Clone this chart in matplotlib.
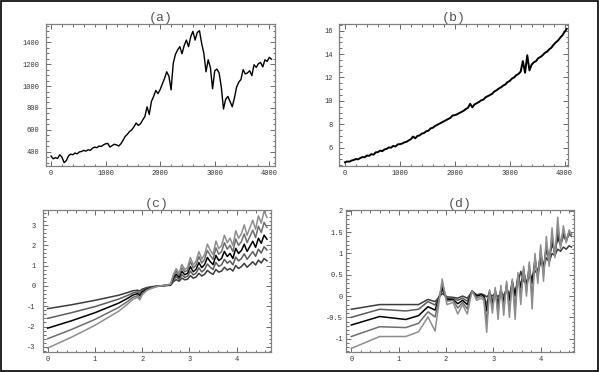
import matplotlib
matplotlib.use('Agg')
import matplotlib.pyplot as plt
from matplotlib.ticker import MultipleLocator, FuncFormatter
from matplotlib.patches import Rectangle
import numpy as np

# ---- panel (a): index series ----
a_t = np.arange(0, 4041, 40)
a_v = [360, 335, 345, 338, 372, 350, 300, 318, 362, 378,
       372, 388, 380, 398, 402, 412, 405, 418, 412, 432,
       442, 436, 452, 448, 462, 472, 475, 442, 456, 468,
       462, 452, 472, 505, 540, 560, 585, 600, 628, 662,
       640, 655, 690, 722, 810, 740, 860, 905, 960, 930,
       968, 1020, 1070, 1130, 1090, 965, 1210, 1290, 1330, 1360,
       1295, 1370, 1420, 1360, 1450, 1500, 1420, 1490, 1505, 1390,
       1300, 1130, 1240, 1170, 975, 1140, 1155, 1120, 990, 790,
       880, 905, 860, 810, 890, 990, 1035, 1060, 1150, 1110,
       1120, 1140, 1095, 1195, 1170, 1205, 1215, 1175, 1240, 1225,
       1262, 1245]

# ---- panel (b): growth series ----
b_t = np.arange(0, 4041, 40)
b_v = [4.75, 4.82, 4.80, 4.90, 4.95, 5.03, 5.00, 5.12, 5.20, 5.18,
       5.33, 5.30, 5.45, 5.40, 5.60, 5.62, 5.75, 5.70, 5.85, 5.90,
       6.02, 6.00, 6.15, 6.10, 6.28, 6.30, 6.35, 6.45, 6.50, 6.62,
       6.72, 6.95, 6.80, 7.00, 7.05, 7.20, 7.25, 7.40, 7.45, 7.65,
       7.70, 7.85, 7.95, 8.05, 8.15, 8.25, 8.35, 8.45, 8.55, 8.75,
       8.78, 8.85, 8.95, 9.05, 9.15, 9.30, 9.40, 9.75, 9.45, 9.70,
       9.80, 9.90, 10.05, 10.10, 10.30, 10.40, 10.50, 10.60, 10.80, 10.90,
       11.05, 11.15, 11.30, 11.40, 11.60, 11.70, 11.90, 12.00, 12.20, 12.30,
       12.50, 13.40, 12.40, 13.90, 12.60, 13.10, 13.30, 13.40, 13.65, 13.75,
       13.90, 14.10, 14.20, 14.40, 14.55, 14.80, 15.00, 15.15, 15.40, 15.60,
       15.90, 16.15]

# ---- panel (c): five curves ----
c_x = [0.0, 0.5, 1.0, 1.5, 1.7, 1.8, 1.85, 1.9, 1.95, 2.0, 2.1, 2.2, 2.3, 2.4, 2.5,
       2.60, 2.66, 2.72, 2.78, 2.84, 2.90, 2.96, 3.02, 3.08, 3.14, 3.20, 3.26,
       3.32, 3.38, 3.44, 3.50, 3.56, 3.62, 3.68, 3.74, 3.80, 3.86, 3.92, 3.98,
       4.04, 4.10, 4.16, 4.22, 4.28, 4.34, 4.40, 4.46, 4.52, 4.58, 4.64]
c1 = [-1.12, -0.93, -0.71, -0.46, -0.32, -0.24, -0.23, -0.21, -0.25, -0.16, -0.08, -0.04, -0.01, 0.0, 0.02,
      0.03, 0.21, 0.31, 0.23, 0.39, 0.30, 0.33, 0.51, 0.38, 0.44, 0.62, 0.49, 0.57, 0.76, 0.65, 0.57,
      0.81, 0.68, 0.73, 0.92, 0.78, 0.86, 0.73, 1.00, 0.86, 0.95, 1.11, 0.92, 1.05, 1.19, 1.03, 1.27,
      1.13, 1.35, 1.24]
c2 = [-1.60, -1.32, -1.02, -0.65, -0.46, -0.35, -0.32, -0.29, -0.36, -0.23, -0.12, -0.06, -0.02, 0.0, 0.02,
      0.05, 0.29, 0.45, 0.32, 0.55, 0.42, 0.48, 0.73, 0.54, 0.63, 0.89, 0.69, 0.81, 1.08, 0.92, 0.81,
      1.16, 0.96, 1.04, 1.31, 1.12, 1.23, 1.04, 1.42, 1.23, 1.35, 1.58, 1.31, 1.50, 1.69, 1.46, 1.81,
      1.62, 1.93, 1.77]
c3 = [-2.08, -1.72, -1.32, -0.85, -0.60, -0.45, -0.42, -0.38, -0.47, -0.30, -0.15, -0.08, -0.02, 0.0, 0.03,
      0.06, 0.38, 0.58, 0.42, 0.72, 0.55, 0.62, 0.95, 0.70, 0.82, 1.15, 0.90, 1.05, 1.40, 1.20, 1.05,
      1.50, 1.25, 1.35, 1.70, 1.45, 1.60, 1.35, 1.85, 1.60, 1.75, 2.05, 1.70, 1.95, 2.20, 1.90, 2.35,
      2.10, 2.50, 2.30]
c4 = [-2.60, -2.15, -1.65, -1.06, -0.75, -0.56, -0.53, -0.48, -0.59, -0.38, -0.19, -0.10, -0.03, 0.0, 0.04,
      0.08, 0.48, 0.73, 0.53, 0.90, 0.69, 0.78, 1.19, 0.88, 1.03, 1.44, 1.13, 1.31, 1.75, 1.50, 1.31,
      1.88, 1.56, 1.69, 2.13, 1.81, 2.00, 1.69, 2.31, 2.00, 2.19, 2.56, 2.13, 2.44, 2.75, 2.38, 2.94,
      2.63, 3.13, 2.88]
c5 = [-3.06, -2.53, -1.94, -1.25, -0.88, -0.66, -0.62, -0.56, -0.69, -0.44, -0.22, -0.12, -0.03, 0.0, 0.04,
      0.09, 0.56, 0.85, 0.62, 1.06, 0.81, 0.91, 1.40, 1.03, 1.21, 1.69, 1.32, 1.54, 2.06, 1.76, 1.54,
      2.21, 1.84, 1.98, 2.50, 2.13, 2.35, 1.98, 2.72, 2.35, 2.57, 3.01, 2.50, 2.87, 3.23, 2.79, 3.45,
      3.09, 3.68, 3.38]

# ---- panel (d): five curves ----
d_x = [0.0, 0.6, 1.15, 1.42, 1.62, 1.77, 1.92, 2.02, 2.15, 2.25, 2.35, 2.45, 2.55, 2.65, 2.74,
       2.80, 2.86, 2.92, 2.98, 3.04, 3.10, 3.16, 3.22, 3.28, 3.34, 3.40, 3.46, 3.52, 3.58,
       3.64, 3.70, 3.76, 3.82, 3.88, 3.94, 4.00, 4.06, 4.12, 4.18, 4.24, 4.30, 4.36, 4.42,
       4.48, 4.54, 4.60, 4.65]
d1 = [-0.31, -0.20, -0.20, -0.20, -0.08, -0.13, 0.06, -0.02, -0.03, -0.05, 0.00, -0.05, 0.10, 0.03, 0.05,
      0.03, -0.02, 0.05, 0.00, 0.06, -0.02, 0.08, 0.02, 0.12, 0.05, 0.22, 0.10, 0.30, 0.58,
      0.35, 0.28, 0.45, 0.38, 0.60, 0.50, 0.82, 0.65, 0.90, 0.80, 1.00, 0.95, 1.10, 1.05,
      1.15, 1.10, 1.18, 1.15]
d2 = [-0.50, -0.31, -0.35, -0.31, -0.13, -0.21, 0.14, -0.05, -0.05, -0.10, -0.05, -0.12, 0.12, 0.02, 0.05,
      0.02, -0.20, 0.08, -0.10, 0.10, -0.15, 0.12, -0.05, 0.18, 0.00, 0.30, 0.05, 0.42, 0.30,
      0.50, 0.30, 0.55, 0.40, 0.75, 0.55, 0.95, 0.70, 1.05, 0.90, 1.20, 1.05, 1.35, 1.20,
      1.40, 1.30, 1.45, 1.40]
d3 = [-0.68, -0.48, -0.55, -0.46, -0.25, -0.33, 0.20, -0.08, -0.08, -0.18, -0.10, -0.20, 0.12, 0.00, 0.03,
      0.00, -0.35, 0.10, -0.20, 0.12, -0.25, 0.15, -0.15, 0.25, -0.10, 0.35, 0.00, 0.45, 0.20,
      0.60, 0.25, 0.65, 0.30, 0.85, 0.50, 1.00, 0.65, 1.15, 0.85, 1.30, 1.00, 1.45, 1.20,
      1.50, 1.30, 1.50, 1.45]
d4 = [-0.95, -0.72, -0.74, -0.64, -0.37, -0.49, 0.30, -0.12, -0.10, -0.28, -0.15, -0.30, 0.12, -0.05, 0.00,
      -0.05, -0.60, 0.12, -0.30, 0.15, -0.40, 0.20, -0.30, 0.30, -0.35, 0.35, -0.30, 0.50, 0.00,
      0.65, 0.10, 0.75, -0.05, 0.90, 0.40, 1.10, 0.50, 1.25, 0.80, 1.45, 0.95, 1.60, 1.20,
      1.55, 1.30, 1.50, 1.45]
d5 = [-1.23, -0.95, -0.95, -0.84, -0.49, -0.82, 0.40, -0.20, -0.15, -0.42, -0.20, -0.42, 0.12, -0.10, -0.05,
      -0.10, -0.85, 0.15, -0.40, 0.20, -0.55, 0.25, -0.45, 0.35, -0.50, 0.40, -0.55, 0.55, -0.20,
      0.70, 0.00, 0.80, -0.30, 1.00, 0.30, 1.20, 0.35, 1.40, 0.70, 1.60, 0.90, 1.85, 1.10,
      1.65, 1.25, 1.55, 1.45]

grays = ['#3c3c3c', '#5c5c5c', '#000000', '#6e6e6e', '#8e8e8e']
mono = 'Liberation Mono'


def style(ax, xlim, ylim, xmaj, xmin, ymaj, ymin, ypad):
    ax.set_xlim(*xlim)
    ax.set_ylim(*ylim)
    ax.xaxis.set_major_locator(MultipleLocator(xmaj))
    ax.xaxis.set_minor_locator(MultipleLocator(xmin))
    ax.yaxis.set_major_locator(MultipleLocator(ymaj))
    ax.yaxis.set_minor_locator(MultipleLocator(ymin))
    fmt = FuncFormatter(lambda v, p: '%g' % round(v, 6))
    ax.xaxis.set_major_formatter(fmt)
    ax.yaxis.set_major_formatter(fmt)
    for s in ax.spines.values():
        s.set_color('#808080')
        s.set_linewidth(0.9)
    ax.tick_params(which='both', direction='in', top=True, right=True,
                   color='#555555', width=0.6)
    ax.tick_params(which='major', length=3.5)
    ax.tick_params(which='minor', length=1.8)
    ax.tick_params(axis='x', which='major', pad=3, labelsize=5, labelcolor='#333333')
    ax.tick_params(axis='y', which='major', pad=ypad, labelsize=5, labelcolor='#333333')
    for lab in ax.get_xticklabels() + ax.get_yticklabels():
        lab.set_family(mono)


fig = plt.figure(figsize=(5.99, 3.72), dpi=100)

ax_a = fig.add_axes([0.0768, 0.5546, 0.3823, 0.3809])
ax_b = fig.add_axes([0.5659, 0.5546, 0.3828, 0.3809])
ax_c = fig.add_axes([0.0713, 0.0546, 0.3811, 0.3809])
ax_d = fig.add_axes([0.5771, 0.0546, 0.3811, 0.3809])

ax_a.plot(a_t, a_v, color='black', lw=1.0)
ax_b.plot(b_t, b_v, color='black', lw=1.4)
for ys, g in zip([c1, c2, c3, c4, c5], grays):
    ax_c.plot(c_x, ys, color=g, lw=1.1)
for ys, g in zip([d1, d2, d3, d4, d5], grays):
    ax_d.plot(d_x, ys, color=g, lw=1.1)

style(ax_a, (-92, 4104), (272, 1567), 1000, 200, 200, 50, 5)
style(ax_b, (-109, 4067), (4.46, 16.57), 1000, 200, 2, 0.5, 4.5)
style(ax_c, (-0.106, 4.726), (-3.24, 3.74), 1, 0.2, 1, 0.2, 5)
style(ax_d, (-0.118, 4.703), (-1.306, 2.02), 1, 0.2, 0.5, 0.1, 2)

for ax, t in zip([ax_a, ax_b, ax_c, ax_d], ['(a)', '(b)', '(c)', '(d)']):
    ax.set_title(t, family=mono, fontsize=9.5, color='#555555', pad=2.5)

fig.patches.append(Rectangle((0.001, 0.002), 0.997, 0.995, transform=fig.transFigure,
                             fill=False, edgecolor='black', lw=1.2))

fig.savefig('out.png', dpi=100)
